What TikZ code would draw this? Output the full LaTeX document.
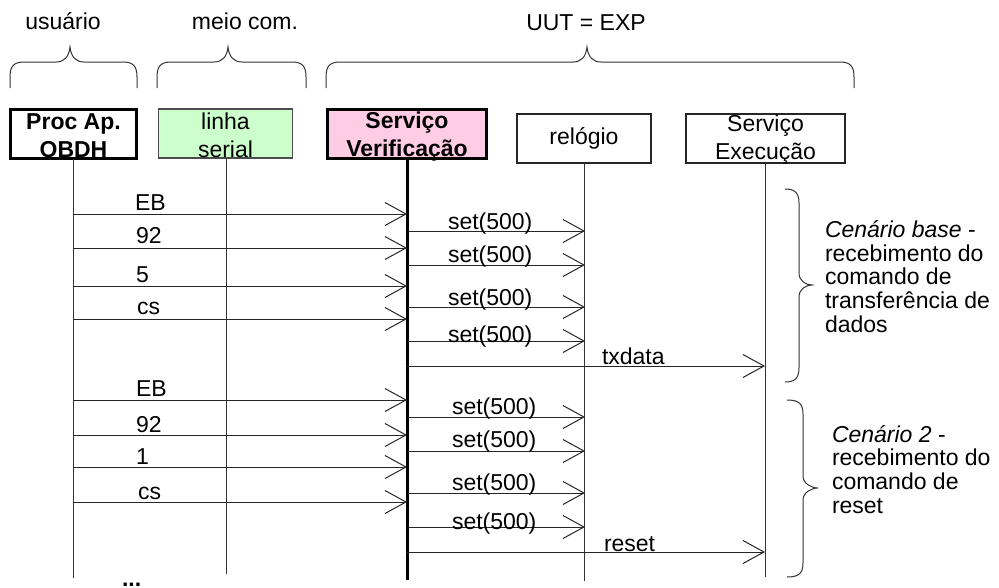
\documentclass[tikz,border=0pt]{standalone}
\usepackage{fontspec}
\setmainfont{Liberation Sans}
\usetikzlibrary{arrows.meta}
\newcommand\mytopbrace[4]{% name, x1, x2, tip
  \draw[brace] ({#2},88) -- ({#2},77) .. controls ({#2},66) and ({#2+4},62) .. ({#2+14},62)
    -- ({#4-14},62) .. controls ({#4-6},62) and ({#4-1},57) .. ({#4},47)
    .. controls ({#4+1},57) and ({#4+6},62) .. ({#4+14},62)
    -- ({#3-14},62) .. controls ({#3-4},62) and ({#3},66) .. ({#3},77) -- ({#3},88);}
\newcommand\mysidebrace[6]{% xl, xv, xt, ytop, ymid, ybot
  \draw[brace] ({#1},{#4}) .. controls ({#2-5},{#4}) and ({#2},{#4+3}) .. ({#2},{#4+14})
    -- ({#2},{#5-12}) .. controls ({#2},{#5-4}) and ({#3-6},{#5}) .. ({#3},{#5})
    .. controls ({#3-6},{#5}) and ({#2},{#5+4}) .. ({#2},{#5+12})
    -- ({#2},{#6-14}) .. controls ({#2},{#6-3}) and ({#2-5},{#6}) .. ({#1},{#6});}
\begin{document}
\begin{tikzpicture}[x=1pt,y=-1pt,
  every node/.style={inner sep=0pt, outer sep=0pt, font=\fontsize{23}{28}\selectfont},
  thickbox/.style={draw=black, line width=3pt, rectangle, align=center, minimum height=49},
  thinbox/.style={draw=black!85, line width=1.6pt, rectangle, align=center, minimum height=49},
  boxtext/.style={align=center},
  brace/.style={draw=black!80, line width=1pt},
  life/.style={draw=black!80, line width=1pt},
  thicklife/.style={draw=black, line width=3pt},
  msg/.style={draw=black!85, line width=1pt, -{Straight Barb[length=21pt,width=23pt,line width=1pt]}},
  lbl/.style={anchor=base west},
  note/.style={anchor=base west, align=left, font=\fontsize{23}{23.6}\selectfont}]
\useasboundingbox (0,0) rectangle (999,587);

% group labels and braces
\node[anchor=base] (usr) at (63,29.5) {usuário};
\node[anchor=base] (meio) at (245,29.5) {meio com.};
\node[anchor=base] (uut) at (586,30) {UUT = EXP};
\mytopbrace{b1}{10}{137}{70}
\mytopbrace{b2}{157}{306}{228}
\mytopbrace{b3}{326}{854}{587}

% participants
\node[thickbox, minimum width=126] (obdh) at (73.5,134) {};
\node[boxtext] (obdhT) at (73.5,136) {\textbf{Proc Ap.}\\\textbf{OBDH}};
\node[thinbox, draw=black!70, line width=1.2pt, fill={rgb,255:red,204;green,255;blue,204}, minimum width=134] (serial) at (225.5,133.5) {};
\node[boxtext] (serialT) at (225.5,135) {linha\\serial};
\node[thickbox, fill={rgb,255:red,255;green,204;blue,229}, minimum width=159] (verif) at (407,134) {};
\node[boxtext] (verifT) at (407,136.5) {\textbf{Serviço}\\\textbf{Verificação}};
\node[thinbox, minimum width=134] (relog) at (584,138.5) {};
\node[boxtext] (relogT) at (584,138.5) {relógio};
\node[thinbox, minimum width=159] (exec) at (765.5,138.5) {};
\node[boxtext] (execT) at (765.5,139.5) {Serviço\\Execução};

% lifelines
\coordinate (obdhE) at (73,578);
\coordinate (serialE) at (226,574);
\coordinate (verifE) at (407,580);
\coordinate (relogE) at (584,581);
\coordinate (execE) at (765,577);
\draw[life] (obdh.south -| obdhE) -- (obdhE);
\draw[life] (serial.south -| serialE) -- (serialE);
\draw[thicklife] (verif.south -| verifE) -- (verifE);
\draw[life] (relog.south -| relogE) -- (relogE);
\draw[life] (exec.south -| execE) -- (execE);

% left messages
\foreach \n/\y in {1/214,2/248,3/286,4/319,5/400,6/435,7/467,8/502}{
  \coordinate (L\n) at (73,\y);
  \coordinate (V\n) at (407,\y);
  \draw[msg] (L\n) -- (V\n);
}
\node[lbl] (tEB1) at (135,210) {EB};
\node[lbl] (t921) at (136,243) {92};
\node[lbl] (t5) at (136,282) {5};
\node[lbl] (tcs1) at (137,314) {cs};
\node[lbl] (tEB2) at (136,396) {EB};
\node[lbl] (t922) at (136,432) {92};
\node[lbl] (t1) at (136,464) {1};
\node[lbl] (tcs2) at (138,499) {cs};

% set messages
\foreach \n/\y in {1/231,2/265,3/307,4/341,5/417,6/451,7/493,8/527}{
  \coordinate (S\n) at (408,\y);
  \coordinate (R\n) at (585,\y);
  \draw[msg] (S\n) -- (R\n);
}
\node[lbl] (s1) at (448,229) {set(500)};
\node[lbl] (s2) at (448,262) {set(500)};
\node[lbl] (s3) at (448,305) {set(500)};
\node[lbl] (s4) at (448,342) {set(500)};
\node[lbl] (s5) at (452,414) {set(500)};
\node[lbl] (s6) at (452,447) {set(500)};
\node[lbl] (s7) at (452,490) {set(500)};
\node[lbl] (s8) at (452,529) {set(500)};

% messages to execution service
\coordinate (VT) at (407,366);
\coordinate (ET) at (765,366);
\draw[msg] (VT) -- (ET);
\node[lbl] (txd) at (602,364) {txdata};
\coordinate (VR) at (407,552);
\coordinate (ER) at (765,552);
\draw[msg] (VR) -- (ER);
\node[lbl] (rst) at (604,551) {reset};

% scenario braces and notes
\mysidebrace{785}{799}{812}{189}{285}{382}
\mysidebrace{787}{803}{818}{400}{488}{577}
\node[note] (cen1) at (825,332) {\textit{Cenário base} -\\recebimento do\\comando de\\transferência de\\dados};
\node[note] (cen2) at (832,513) {\textit{Cenário 2} -\\recebimento do\\comando de\\reset};

\node[lbl] (dots) at (122,586.5) {\textbf{...}};
\end{tikzpicture}
\end{document}
